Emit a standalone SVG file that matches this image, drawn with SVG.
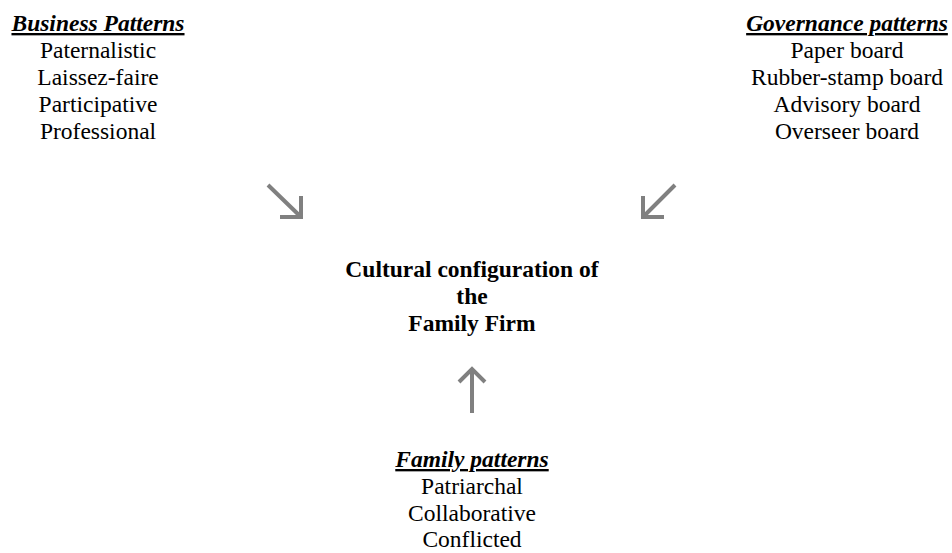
<svg xmlns="http://www.w3.org/2000/svg" width="952" height="553" viewBox="0 0 952 553">
<style>
text{font-size:23.5px;fill:#000;text-anchor:middle}
.h{font-weight:bold;font-style:italic;text-decoration:underline}
.b{font-weight:bold}
.a{fill:none;stroke:#808080;stroke-width:4}
</style>
<rect width="952" height="553" fill="#fff"/>
<g font-family="'Liberation Serif', 'Times New Roman', Times, 'DejaVu Serif', serif">
<g id="business">
<text x="98" y="31" class="h">Business Patterns</text>
<text x="98" y="58">Paternalistic</text>
<text x="98" y="85">Laissez-faire</text>
<text x="98" y="112">Participative</text>
<text x="98" y="139">Professional</text>
</g>
<g id="governance">
<text x="847" y="31" class="h">Governance patterns</text>
<text x="847" y="58">Paper board</text>
<text x="847" y="85">Rubber-stamp board</text>
<text x="847" y="112">Advisory board</text>
<text x="847" y="139">Overseer board</text>
</g>
<g id="culture">
<text x="472" y="277" class="b">Cultural configuration of</text>
<text x="472" y="304" class="b">the</text>
<text x="472" y="331" class="b">Family Firm</text>
</g>
<g id="family">
<text x="472" y="467" class="h">Family patterns</text>
<text x="472" y="494">Patriarchal</text>
<text x="472" y="521">Collaborative</text>
<text x="472" y="547">Conflicted</text>
</g>
</g>
<g id="connectors">
<path class="a" d="M268 185 L301 217 M280 217 L301 217 L301 196"/>
<path class="a" d="M675 185 L643 217 M664 217 L643 217 L643 196"/>
<path class="a" d="M472 413 L472 369 M459 382 L472 369 L485 382"/>
</g>
</svg>
